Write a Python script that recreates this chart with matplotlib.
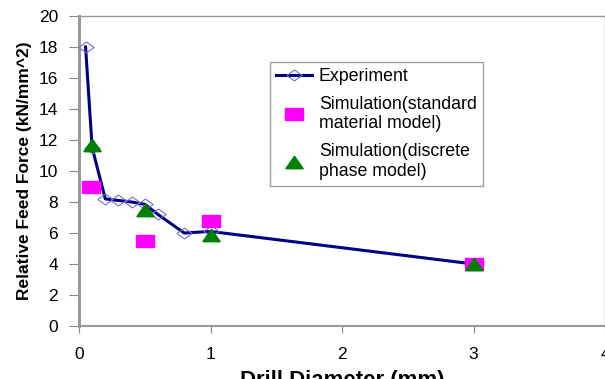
import matplotlib as mpl
mpl.use('Agg')
import matplotlib.pyplot as plt

# Experiment
exp_x = [0.05, 0.1, 0.2, 0.3, 0.4, 0.5, 0.6, 0.8, 1.0, 3.0]
exp_y = [18.0, 11.5, 8.2, 8.1, 8.0, 7.85, 7.2, 6.0, 6.1, 4.0]

# Simulation (standard material model)
std_x = [0.09, 0.5, 1.0, 3.0]
std_y = [9.0, 5.5, 6.8, 4.0]

# Simulation (discrete phase model)
disc_x = [0.1, 0.5, 1.0, 3.0]
disc_y = [11.7, 7.5, 5.9, 4.0]

plt.rcParams['font.family'] = ['Liberation Sans', 'DejaVu Sans']

# the original looks stretched sideways, so markers are wider than tall
wide_diamond = [(-1.4, 0), (0, 1), (1.4, 0), (0, -1), (-1.4, 0)]
wide_square = [(-1.4, -1), (1.4, -1), (1.4, 1), (-1.4, 1), (-1.4, -1)]
wide_tri = [(-1.4, -1), (1.4, -1), (0, 1), (-1.4, -1)]

fig = plt.figure(figsize=(6.05, 3.79), dpi=100)
ax = fig.add_axes([79 / 605, 53 / 379, 526 / 605, 310 / 379])

ax.plot(exp_x, exp_y, color='#000080', lw=2.2, marker=wide_diamond, ms=11,
        mfc='none', mec='#7070d0', mew=0.8, label='Experiment', zorder=3)
ax.plot(std_x, std_y, ls='none', marker=wide_square, ms=12.5, color='#ff00ff',
        mec='#ff00ff', label='Simulation(standard\nmaterial model)', zorder=4)
ax.plot(disc_x, disc_y, ls='none', marker=wide_tri, ms=12.5, color='#008000',
        mec='#008000', label='Simulation(discrete\nphase model)', zorder=5)

ax.set_xlim(0, 4)
ax.set_ylim(0, 20)
ax.set_xticks([0, 1, 2, 3, 4])
ax.set_yticks(range(0, 21, 2))
ax.tick_params(axis='y', direction='out', length=7, color='#888888', labelsize=12.5, pad=8)
ax.tick_params(axis='x', direction='out', length=5, color='#888888', labelsize=12.5, pad=10)

for s in ax.spines.values():
    s.set_color('#999999')
    s.set_linewidth(1)
ax.spines['left'].set_linewidth(2.2)
ax.spines['bottom'].set_linewidth(1.5)

ax.set_ylabel('Relative Feed Force (kN/mm^2)', fontsize=12.5, fontweight='bold', labelpad=5)
ax.set_xlabel('Drill Diameter (mm)', fontsize=16, fontweight='bold', labelpad=6)

leg = ax.legend(loc='upper left', bbox_to_anchor=((270 - 79) / 526, (326 - 62) / 310),
                fontsize=12.8, frameon=True, fancybox=False, edgecolor='#888888',
                borderpad=0.35, labelspacing=0.6, handlelength=2.0, handletextpad=0.4,
                borderaxespad=0)
leg.get_frame().set_linewidth(1)

plt.savefig('out.png', dpi=100)
